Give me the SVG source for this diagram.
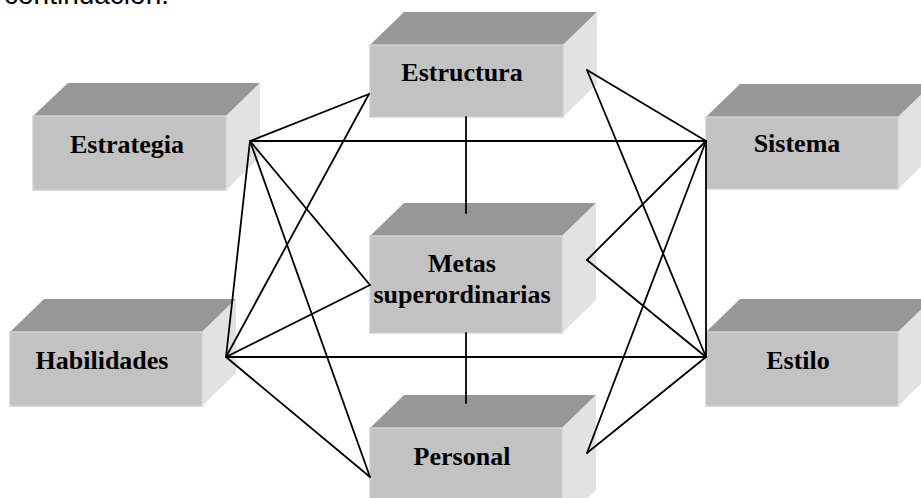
<svg xmlns="http://www.w3.org/2000/svg" width="921" height="498" viewBox="0 0 921 498">
<style>
.front{fill:#c2c2c2;stroke:#d2d2d2;stroke-width:1.5}
.top{fill:#979797}
.side{fill:#e2e2e2}
.lbl{font-family:"Liberation Serif","Times New Roman",serif;font-weight:bold;font-size:26px;fill:#000;text-anchor:middle}
.con line{stroke:#000;stroke-width:1.8;stroke-linecap:round}
</style>
<rect width="921" height="498" fill="#fff"/>
<text x="4" y="4" font-family="Liberation Sans, Arial, sans-serif" font-size="28" fill="#000">continuación.</text>

<g id="estrategia">
<polygon class="top" points="33,116 68,83 260,83 226,116"/>
<polygon class="side" points="226,116 260,83 260,157 226,190"/>
<rect class="front" x="33" y="116" width="193" height="74"/>
<text class="lbl" x="127" y="153">Estrategia</text>
</g>
<g id="estructura">
<polygon class="top" points="370,45 404,12 597,12 563,45"/>
<polygon class="side" points="563,45 597,12 597,84 563,117"/>
<rect class="front" x="370" y="45" width="193" height="72"/>
<text class="lbl" x="462" y="81">Estructura</text>
</g>
<g id="sistema">
<polygon class="top" points="706,117 740,84 932,84 898,117"/>
<polygon class="side" points="898,117 932,84 932,156 898,189"/>
<rect class="front" x="706" y="117" width="192" height="72"/>
<text class="lbl" x="797" y="152">Sistema</text>
</g>
<g id="metas">
<polygon class="top" points="370,236 404,203 596,203 562,236"/>
<polygon class="side" points="562,236 596,203 596,300 562,333"/>
<rect class="front" x="370" y="236" width="192" height="97"/>
<text class="lbl" x="462" y="272">Metas</text>
<text class="lbl" x="462" y="303">superordinarias</text>
</g>
<g id="habilidades">
<polygon class="top" points="10,332 44,299 236,299 202,332"/>
<polygon class="side" points="202,332 236,299 236,373 202,406"/>
<rect class="front" x="10" y="332" width="192" height="74"/>
<text class="lbl" x="102" y="369">Habilidades</text>
</g>
<g id="estilo">
<polygon class="top" points="706,332 740,299 932,299 898,332"/>
<polygon class="side" points="898,332 932,299 932,373 898,406"/>
<rect class="front" x="706" y="332" width="192" height="74"/>
<text class="lbl" x="798" y="369">Estilo</text>
</g>
<g id="personal">
<polygon class="top" points="370,428 404,395 596,395 562,428"/>
<polygon class="side" points="562,428 596,395 596,490 562,523"/>
<rect class="front" x="370" y="428" width="192" height="95"/>
<text class="lbl" x="462" y="465">Personal</text>
</g>

<g id="connectors" class="con">
<line x1="250" y1="141" x2="369" y2="94"/>
<line x1="250" y1="141" x2="706" y2="141"/>
<line x1="250" y1="141" x2="370" y2="285"/>
<line x1="250" y1="141" x2="370" y2="477"/>
<line x1="250" y1="141" x2="226" y2="357"/>
<line x1="226" y1="357" x2="369" y2="94"/>
<line x1="226" y1="357" x2="370" y2="285"/>
<line x1="226" y1="357" x2="370" y2="477"/>
<line x1="226" y1="357" x2="706" y2="357"/>
<line x1="706" y1="141" x2="587" y2="70"/>
<line x1="706" y1="141" x2="587" y2="260"/>
<line x1="706" y1="141" x2="587" y2="453"/>
<line x1="706" y1="141" x2="706" y2="357"/>
<line x1="706" y1="357" x2="587" y2="70"/>
<line x1="706" y1="357" x2="587" y2="260"/>
<line x1="706" y1="357" x2="587" y2="453"/>
<line x1="466" y1="117" x2="466" y2="213"/>
<line x1="466" y1="333" x2="466" y2="403"/>
</g>
</svg>
